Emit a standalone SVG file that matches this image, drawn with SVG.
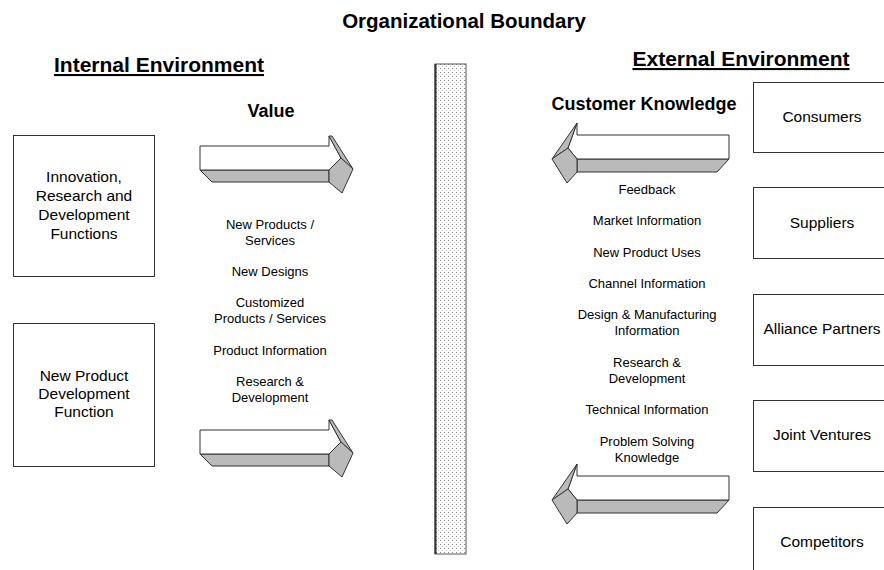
<svg xmlns="http://www.w3.org/2000/svg" width="884" height="570" viewBox="0 0 884 570">
<defs>
<pattern id="dots" width="4" height="4" patternUnits="userSpaceOnUse">
<rect width="4" height="4" fill="#ffffff"/>
<rect x="0" y="0" width="1" height="1" fill="#8a8a8a"/>
<rect x="2" y="2" width="1" height="1" fill="#c8c8c8"/>
</pattern>
<style>
.box{fill:#ffffff;stroke:#333333;stroke-width:1}
.t{font-family:"Liberation Sans",Arial,sans-serif;fill:#000000;text-anchor:middle}
.bt{font-size:15.5px}
.st{font-size:13px}
.hd{font-weight:bold;font-size:21px;text-decoration:underline}
.hv{font-weight:bold;font-size:18px}
.fr{fill:#ffffff;stroke:#333333;stroke-width:1;stroke-linejoin:round}
.sh{fill:#bababa;stroke:#333333;stroke-width:1;stroke-linejoin:round}
</style>
</defs>
<rect width="884" height="570" fill="#ffffff"/>

<text class="t" x="464" y="28" style="font-weight:bold;font-size:20.5px">Organizational Boundary</text>
<text class="t hd" x="159" y="72">Internal Environment</text>
<text class="t hd" x="741" y="66">External Environment</text>
<text class="t hv" x="271" y="117">Value</text>
<text class="t hv" x="644" y="110">Customer Knowledge</text>

<g id="boundary">
<rect x="435" y="64" width="31" height="490" fill="url(#dots)" stroke="#555555" stroke-width="1"/>
<line x1="435.5" y1="64" x2="435.5" y2="554" stroke="#333333" stroke-width="2"/>
</g>

<g id="innovation">
<rect class="box" x="13.5" y="135.5" width="141" height="141"/>
<text class="t bt" x="84" y="182">Innovation,</text>
<text class="t bt" x="84" y="201">Research and</text>
<text class="t bt" x="84" y="220">Development</text>
<text class="t bt" x="84" y="239">Functions</text>
</g>
<g id="npd">
<rect class="box" x="13.5" y="323.5" width="141" height="143"/>
<text class="t bt" x="84" y="381">New Product</text>
<text class="t bt" x="84" y="399">Development</text>
<text class="t bt" x="84" y="417">Function</text>
</g>

<g id="consumers">
<rect class="box" x="753.5" y="82.5" width="140" height="70"/>
<text class="t bt" x="822" y="122">Consumers</text>
</g>
<g id="suppliers">
<rect class="box" x="753.5" y="187.5" width="140" height="71"/>
<text class="t bt" x="822" y="228">Suppliers</text>
</g>
<g id="alliance">
<rect class="box" x="753.5" y="294.5" width="140" height="71"/>
<text class="t bt" x="822" y="334">Alliance Partners</text>
</g>
<g id="jv">
<rect class="box" x="753.5" y="400.5" width="140" height="71"/>
<text class="t bt" x="822" y="440">Joint Ventures</text>
</g>
<g id="competitors">
<rect class="box" x="753.5" y="507.5" width="140" height="80"/>
<text class="t bt" x="822" y="547">Competitors</text>
</g>

<g id="value-items">
<text class="t st" x="270" y="229">New Products /</text>
<text class="t st" x="270" y="245">Services</text>
<text class="t st" x="270" y="276">New Designs</text>
<text class="t st" x="270" y="307">Customized</text>
<text class="t st" x="270" y="323">Products / Services</text>
<text class="t st" x="270" y="355">Product Information</text>
<text class="t st" x="270" y="386">Research &amp;</text>
<text class="t st" x="270" y="402">Development</text>
</g>

<g id="knowledge-items">
<text class="t st" x="647" y="194">Feedback</text>
<text class="t st" x="647" y="225">Market Information</text>
<text class="t st" x="647" y="257">New Product Uses</text>
<text class="t st" x="647" y="288">Channel Information</text>
<text class="t st" x="647" y="319">Design &amp; Manufacturing</text>
<text class="t st" x="647" y="335">Information</text>
<text class="t st" x="647" y="367">Research &amp;</text>
<text class="t st" x="647" y="383">Development</text>
<text class="t st" x="647" y="414">Technical Information</text>
<text class="t st" x="647" y="446">Problem Solving</text>
<text class="t st" x="647" y="462">Knowledge</text>
</g>

<g id="connectors">
<g id="arrow-value-top">
<polygon class="sh" points="200,170 329,170 329,182 212,182"/>
<polygon class="fr" points="200,146 329,146 329,136 341,158 329,170 200,170"/>
<polygon class="sh" points="329,136 332,136 353,169 341,158"/>
<polygon class="sh" points="329,170 341,158 353,169 342,193 329,182"/>
</g>
<g id="arrow-value-bottom" transform="translate(0,284)">
<polygon class="sh" points="200,170 329,170 329,182 212,182"/>
<polygon class="fr" points="200,146 329,146 329,136 341,158 329,170 200,170"/>
<polygon class="sh" points="329,136 332,136 353,169 341,158"/>
<polygon class="sh" points="329,170 341,158 353,169 342,193 329,182"/>
</g>
<g id="arrow-knowledge-top">
<polygon class="sh" points="577,159 729,159 717,172 577,172"/>
<polygon class="fr" points="729,135 577,135 577,123 568,148 577,159 729,159"/>
<polygon class="sh" points="577,123 552,159 568,148"/>
<polygon class="sh" points="577,159 568,148 552,159 567,183 577,172"/>
</g>
<g id="arrow-knowledge-bottom" transform="translate(0,341)">
<polygon class="sh" points="577,159 729,159 717,172 577,172"/>
<polygon class="fr" points="729,135 577,135 577,123 568,148 577,159 729,159"/>
<polygon class="sh" points="577,123 552,159 568,148"/>
<polygon class="sh" points="577,159 568,148 552,159 567,183 577,172"/>
</g>
</g>
</svg>
